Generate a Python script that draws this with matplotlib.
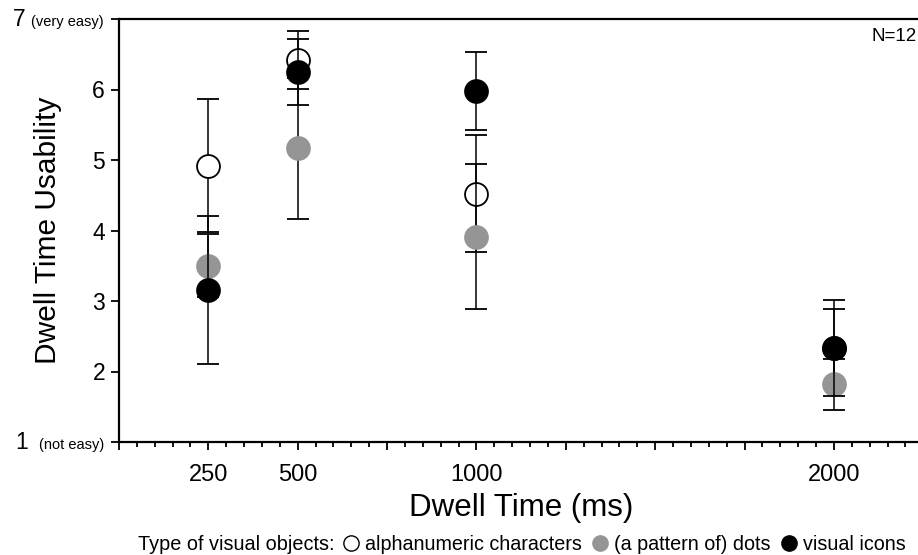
import matplotlib
matplotlib.use('Agg')
import matplotlib.pyplot as plt
from matplotlib.lines import Line2D
from matplotlib.ticker import MultipleLocator, FixedLocator

plt.rcParams['font.family'] = ['Liberation Sans', 'DejaVu Sans']

# 数据：驻留时间 (ms) 与可用性评分 (平均值 ± 误差)
dwell = [250, 500, 1000, 2000]

alpha_mean = [4.92, 6.42, 4.52, 2.33]
alpha_err = [0.94, 0.41, 0.83, 0.55]

dots_mean = [3.50, 5.17, 3.91, 1.82]
dots_err = [0.45, 1.00, 1.03, 0.36]

icons_mean = [3.15, 6.25, 5.98, 2.33]
icons_err = [1.05, 0.47, 0.55, 0.68]

x_labels = [250, 500, 1000, 2000]
y_ticks = [1, 2, 3, 4, 5, 6, 7]

fig = plt.figure(figsize=(9.18, 5.55), dpi=100)
ax = fig.add_axes([119 / 918, 113 / 555, 1 - 119 / 918, 423 / 555])

# 三组数据：空心圆、灰点、黑点（黑点画在最上层）
series = [
    (alpha_mean, alpha_err, 'white'),
    (dots_mean, dots_err, '#959595'),
    (icons_mean, icons_err, 'black'),
]
for i, (m, e, c) in enumerate(series):
    ec = 'black' if c != '#959595' else '#959595'
    ax.errorbar(dwell, m, yerr=e, fmt='o', ms=16.5, mfc=c, mec=ec, mew=1.3,
                ecolor='black', elinewidth=1.1, capsize=8, capthick=1.1,
                zorder=3 + i)

ax.set_xlim(0, 2235)
ax.set_ylim(1, 7)

# 刻度
ax.xaxis.set_major_locator(MultipleLocator(250))
ax.xaxis.set_minor_locator(MultipleLocator(50))
ax.set_xticklabels([])
ax.tick_params(axis='x', which='major', length=5.5, width=1.3, direction='out')
ax.tick_params(axis='x', which='minor', length=3.5, width=1.3, direction='out')
for xv in x_labels:
    ax.annotate(str(xv), xy=(xv, 0), xycoords=ax.get_xaxis_transform(),
                xytext=(0, -22), textcoords='offset pixels',
                ha='center', va='top', fontsize=17)

ax.yaxis.set_major_locator(FixedLocator(y_ticks))
ax.set_yticklabels(['', '2', '3', '4', '5', '6', ''], fontsize=16.5)
ax.tick_params(axis='y', length=6, width=1.3, pad=4)

ytr = ax.get_yaxis_transform()
for yv, note in [(7, '(very easy)'), (1, '(not easy)')]:
    ax.annotate(note, xy=(0, yv), xycoords=ytr, xytext=(-15, -7),
                textcoords='offset pixels', ha='right', va='baseline',
                fontsize=10.5)
ax.annotate('7', xy=(0, 7), xycoords=ytr, xytext=(-94, -7),
            textcoords='offset pixels', ha='right', va='baseline', fontsize=16.5)
ax.annotate('1', xy=(0, 1), xycoords=ytr, xytext=(-91, -7),
            textcoords='offset pixels', ha='right', va='baseline', fontsize=16.5)

for s in ['left', 'top', 'bottom']:
    ax.spines[s].set_linewidth(1.6)
ax.spines['right'].set_visible(False)

ax.set_xlabel('Dwell Time (ms)', fontsize=22.5)
ax.xaxis.set_label_coords(0.503, -0.12)
ax.set_ylabel('Dwell Time Usability', fontsize=21.5)
ax.yaxis.set_label_coords(-0.071, 0.5)

ax.text(0.999, 0.978, 'N=12', transform=ax.transAxes, ha='right', va='top',
        fontsize=13.5)

# 底部图例
fig.text(138 / 918, 1 - 544 / 555, 'Type of visual objects:', ha='left',
         va='center', fontsize=14.3)
handles = [
    Line2D([], [], ls='none', marker='o', ms=11, mfc='white', mec='black', mew=1),
    Line2D([], [], ls='none', marker='o', ms=11, mfc='#959595', mec='#959595'),
    Line2D([], [], ls='none', marker='o', ms=11, mfc='black', mec='black'),
]
labels = ['alphanumeric characters', '(a pattern of) dots', 'visual icons']
fig.legend(handles, labels, ncol=3, loc='center left',
           bbox_to_anchor=(344 / 918, 1 - 544 / 555), frameon=False,
           fontsize=14.2, handlelength=0.7, handletextpad=0.35,
           columnspacing=0.6, borderpad=0, borderaxespad=0)

fig.savefig('out.png', dpi=100)
